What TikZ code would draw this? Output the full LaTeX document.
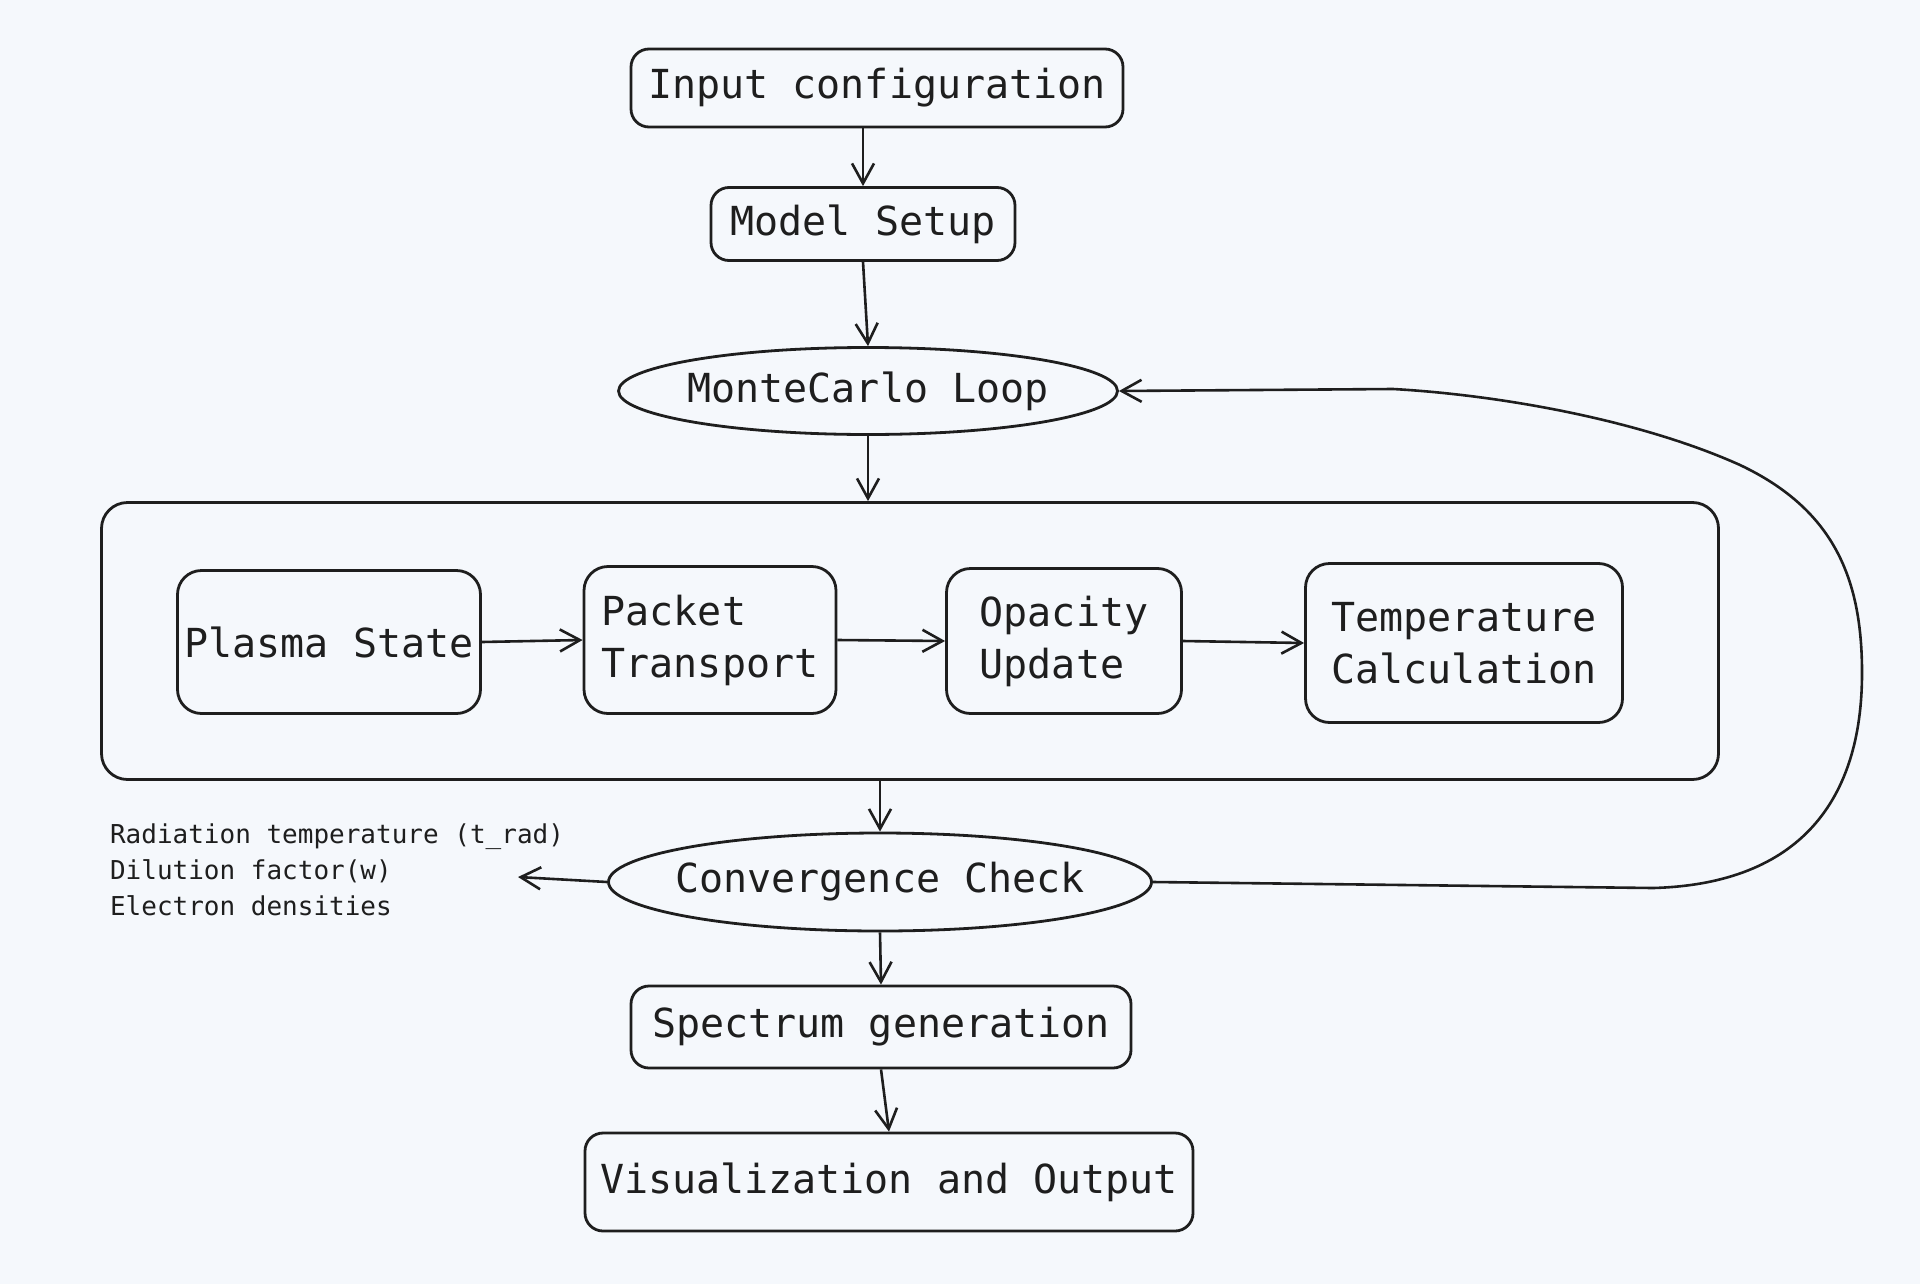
\documentclass[tikz,border=0pt]{standalone}
\usepackage{fontspec}
\setmonofont{DejaVu Sans Mono}
\usetikzlibrary{arrows.meta,shapes.geometric}
\definecolor{paper}{HTML}{F5F8FC}
\definecolor{ink}{HTML}{1E1E1E}

\begin{document}
\begin{tikzpicture}[x=0.5pt,y=-0.5pt,
    >={Straight Barb[length=10pt,width=11pt]},
    every node/.style={font=\ttfamily\fontsize{20}{26}\selectfont, text=ink},
    stage/.style={rectangle, draw=ink, line width=1.4pt, rounded corners=9pt, inner sep=2pt},
    substage/.style={stage, rounded corners=12pt, align=left},
    loopoval/.style={ellipse, draw=ink, line width=1.4pt, inner xsep=-8pt, inner ysep=0pt},
    flow/.style={->, draw=ink, line width=1.3pt}]
      \fill[paper] (0,0) rectangle (1920,1284);
      % main chain
      \node[stage, minimum width=246pt, minimum height=39pt] at (877,88) (input) {Input configuration};
      \node[stage, minimum width=152pt, minimum height=36.5pt] at (863,224) (model) {Model Setup};
      \node[loopoval, minimum width=249.5pt, minimum height=43.5pt] at (868,391) (mc) {MonteCarlo Loop};
      \node[stage, rounded corners=13pt, minimum width=808.5pt, minimum height=138.5pt] at (910,641) (loopframe) {};
      \node[substage, minimum width=151.5pt, minimum height=71.5pt] at (329,642) (plasma) {Plasma State};
      \node[substage, minimum width=126pt, minimum height=73.5pt] at (710,640) (packet) {Packet\\Transport};
      \node[substage, minimum width=117.5pt, minimum height=72.5pt] at (1064,641) (opacity) {Opacity\\Update};
      \node[substage, minimum width=158.5pt, minimum height=79.5pt] at (1464,643) (temp) {Temperature\\Calculation};
      \node[loopoval, minimum width=271.5pt, minimum height=49pt] at (880,882) (conv) {Convergence Check};
      \node[anchor=west, align=left, font=\ttfamily\fontsize{13}{18}\selectfont] at (103,870) (vars) {Radiation temperature (t\_rad)\\Dilution factor(w)\\Electron densities};
      \node[stage, minimum width=250pt, minimum height=41pt] at (881,1027) (spec) {Spectrum generation};
      \node[stage, minimum width=304pt, minimum height=49pt] at (889,1182) (vis) {Visualization and Output};
      % loop back
      \coordinate (varsTip) at (518,877);
      \coordinate (loopA) at (1653,888);
      \coordinate (loopB) at (1862,673);
      \coordinate (loopC) at (1740,465);
      \coordinate (loopD) at (1393,389);
      \draw[flow] (input.south -| model.north) -- (model.north);
      \draw[flow] (model.south) -- (mc.north);
      \draw[flow] (mc.south) -- (mc.south |- loopframe.north);
      \draw[flow] (plasma.east) -- (packet.west);
      \draw[flow] (packet.east) -- (opacity.west);
      \draw[flow] (opacity.east) -- (temp.west);
      \draw[flow] (loopframe.south -| conv.north) -- (conv.north);
      \draw[flow] (conv.west) -- (varsTip);
      \draw[flow] (conv.south) -- (spec.north);
      \draw[flow] (spec.south) -- (vis.north);
      \draw[flow] (conv.east) -- (loopA) .. controls (1800,884) and (1862,800) .. (loopB)
            .. controls (1862,580) and (1835,510) .. (loopC)
            .. controls (1640,420) and (1500,395) .. (loopD) -- (mc.east);
\end{tikzpicture}
\end{document}
